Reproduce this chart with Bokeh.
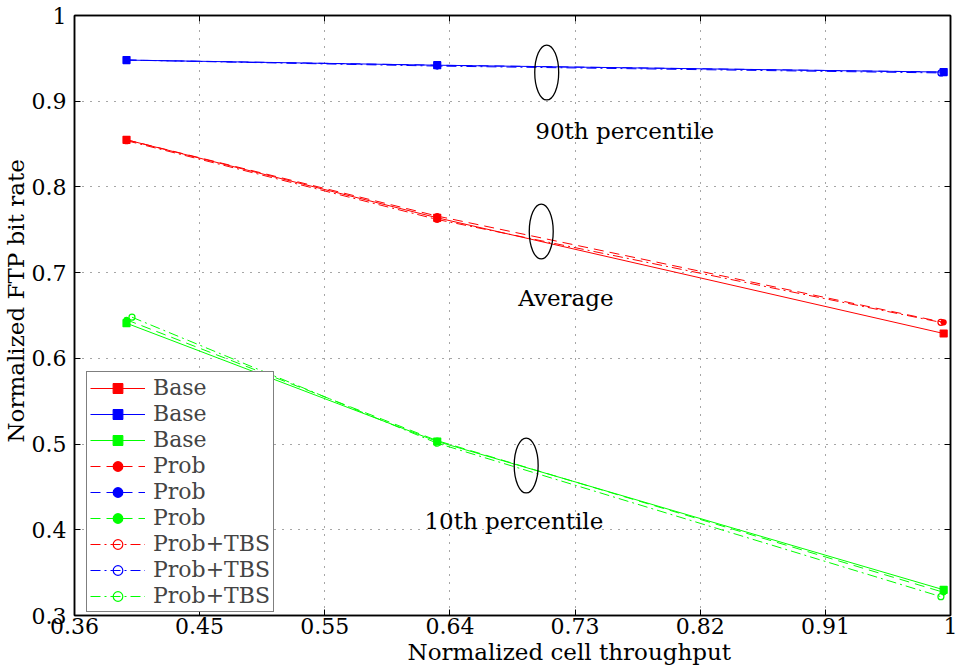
from bokeh.plotting import figure
from bokeh.models import Legend, LegendItem, LinearAxis, FixedTicker, Title, Range1d
from bokeh.embed import file_html
from bokeh.resources import INLINE
from bokeh.core.properties import value

FONT = "DejaVu Serif"

# ---- data ----
x_base = [0.398, 0.625, 0.995]
x_prob = [0.398, 0.625, 0.995]
x_tbs = [0.398, 0.625, 0.993]
x_tbs_green = [0.402, 0.625, 0.993]

red_base = [0.855, 0.764, 0.629]
red_prob = [0.855, 0.766, 0.642]
red_tbs = [0.854, 0.762, 0.642]
blue_base = [0.948, 0.942, 0.934]
blue_prob = [0.948, 0.942, 0.934]
blue_tbs = [0.948, 0.941, 0.933]
green_base = [0.641, 0.503, 0.330]
green_prob = [0.645, 0.504, 0.327]
green_tbs = [0.648, 0.501, 0.322]

x_ticks = [0.36, 0.4514, 0.5429, 0.6343, 0.7257, 0.8171, 0.9086, 1.0]
x_tick_labels = ["0.36", "0.45", "0.55", "0.64", "0.73", "0.82", "0.91", "1"]
y_ticks = [0.3, 0.4, 0.5, 0.6, 0.7, 0.8, 0.9, 1.0]
y_tick_labels = ["0.3", "0.4", "0.5", "0.6", "0.7", "0.8", "0.9", "1"]

annot_text = ["90th percentile", "Average", "10th percentile"]
annot_x = [0.762, 0.719, 0.681]
annot_y = [0.865, 0.670, 0.410]
ellipse_x = [0.705, 0.701, 0.690]
ellipse_y = [0.9335, 0.748, 0.475]

x_label = "Normalized cell throughput"
y_label = "Normalized FTP bit rate"

# ---- figure ----
p = figure(width=961, height=672, output_backend="svg", toolbar_location=None,
           x_range=Range1d(0.36, 1.0), y_range=Range1d(0.3, 1.0),
           min_border_left=72, min_border_right=11, min_border_top=15, min_border_bottom=57)
p.background_fill_color = "white"
p.border_fill_color = "white"
p.outline_line_color = "black"
p.outline_line_width = 1.5

for ax in (p.xaxis[0], p.yaxis[0]):
    ax.major_label_text_font = FONT
    ax.major_label_text_font_size = "22px"
    ax.major_label_text_color = "black"
    ax.major_tick_in = 6
    ax.major_tick_out = 0
    ax.minor_tick_in = 0
    ax.minor_tick_out = 0
    ax.axis_line_color = "black"
    ax.axis_line_width = 1.5
    ax.major_tick_line_color = "black"

p.xaxis[0].ticker = FixedTicker(ticks=x_ticks)
p.xaxis[0].major_label_overrides = dict(zip(x_ticks, x_tick_labels))
p.xaxis[0].major_label_standoff = 2
p.yaxis[0].ticker = FixedTicker(ticks=y_ticks)
p.yaxis[0].major_label_overrides = dict(zip(y_ticks, y_tick_labels))
p.yaxis[0].major_label_standoff = 8

# mirrored axes (box style), no labels
top = LinearAxis(ticker=FixedTicker(ticks=x_ticks),
                 major_label_overrides={t: "" for t in x_ticks},
                 major_label_standoff=0, major_tick_in=6, major_tick_out=0,
                 minor_tick_in=0, minor_tick_out=0, axis_line_width=1.5)
right = LinearAxis(ticker=FixedTicker(ticks=y_ticks),
                   major_label_overrides={t: "" for t in y_ticks},
                   major_label_standoff=0, major_tick_in=6, major_tick_out=0,
                   minor_tick_in=0, minor_tick_out=0, axis_line_width=1.5)
p.add_layout(top, "above")
p.add_layout(right, "right")

p.xgrid.ticker = FixedTicker(ticks=x_ticks)
p.ygrid.ticker = FixedTicker(ticks=y_ticks)
for g in (p.xgrid[0], p.ygrid[0]):
    g.grid_line_color = "black"
    g.grid_line_alpha = 0.7
    g.grid_line_dash = "1 7"
    g.grid_line_width = 1

# ---- series ----
series = [
    ("Base", "#ff0000", x_base, red_base, "solid", "square", 7, True),
    ("Base", "#0000ff", x_base, blue_base, "solid", "square", 7, True),
    ("Base", "#00ff00", x_base, green_base, "solid", "square", 7, True),
    ("Prob", "#ff0000", x_prob, red_prob, "10 6", "circle", 5, True),
    ("Prob", "#0000ff", x_prob, blue_prob, "10 6", "circle", 5, True),
    ("Prob", "#00ff00", x_prob, green_prob, "10 6", "circle", 5, True),
    ("Prob+TBS", "#ff0000", x_tbs, red_tbs, "10 4 2 4", "circle", 6, False),
    ("Prob+TBS", "#0000ff", x_tbs, blue_tbs, "10 4 2 4", "circle", 6, False),
    ("Prob+TBS", "#00ff00", x_tbs_green, green_tbs, "10 4 2 4", "circle", 6, False),
]

# draw last series first so Base markers sit on top
rend = {}
for i in reversed(range(len(series))):
    label, color, xs, ys, dash, marker, size, filled = series[i]
    ln = p.line(xs, ys, line_color=color, line_width=1, line_dash=dash)
    sc = p.scatter(xs, ys, marker=marker, size=size, line_color=color,
                   fill_color=color if filled else None, line_width=1.2)
    rend[i] = (ln, sc)

items = [LegendItem(label=series[i][0], renderers=list(rend[i])) for i in range(len(series))]

legend = Legend(items=items, location=(12, 3), glyph_width=55, glyph_height=24,
                label_height=24, label_standoff=8, spacing=1, padding=3, margin=0,
                label_text_font=FONT, label_text_font_size="22px",
                border_line_color="black", border_line_width=1.2,
                background_fill_color="white", background_fill_alpha=1.0)
p.add_layout(legend, "center")

# ---- annotations ----
p.ellipse(ellipse_x, ellipse_y, width=0.0175, height=0.064, fill_color=None,
          line_color="black", line_width=1.3)
p.text(annot_x, annot_y, text=annot_text, text_align="center", text_baseline="middle",
       text_font=value(FONT), text_font_size="23px", text_color="black")

# axis labels as titles (offset as in the reference)
p.add_layout(Title(text=x_label, align="left", offset=333, standoff=0,
                   text_font=FONT, text_font_size="23px", text_font_style="normal",
                   text_color="black"), "below")
p.add_layout(Title(text=y_label, align="left", offset=173, standoff=0,
                   text_font=FONT, text_font_size="23px", text_font_style="normal",
                   text_color="black"), "left")

open("out.html", "w").write(file_html(p, INLINE))
